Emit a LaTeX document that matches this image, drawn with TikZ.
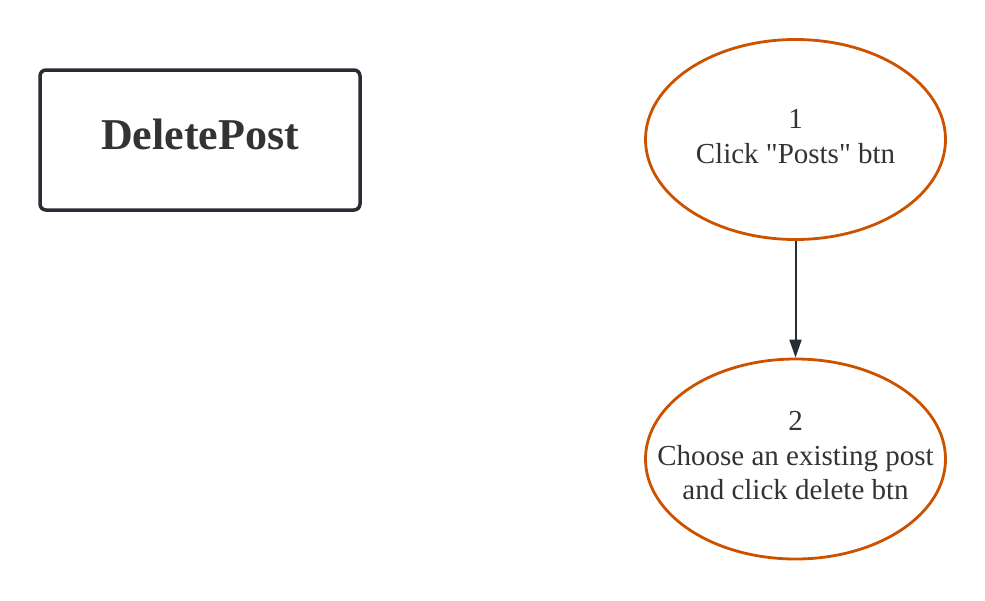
\documentclass[tikz,border=0pt]{standalone}
\usepackage{fontspec}
\setmainfont{Liberation Serif}
\usetikzlibrary{arrows.meta,shapes.geometric}
\definecolor{boxline}{HTML}{282C33}
\definecolor{txt}{HTML}{333333}
\definecolor{orangeline}{HTML}{CC5200}
\tikzset{
  titlebox/.style={draw=boxline, line width=3.5pt, rounded corners=6pt, minimum width=320pt, minimum height=140pt, inner sep=0pt},
  titletext/.style={text=txt, font=\fontsize{44}{50}\selectfont\bfseries, inner sep=0pt},
  stepell/.style={draw=orangeline, line width=2.8pt, ellipse, minimum width=300pt, minimum height=200pt, inner sep=0pt},
  steptext/.style={text=txt, align=center, font=\fontsize{29}{34.5}\selectfont, inner sep=0pt},
  flow/.style={draw=boxline, line width=2pt, -{Triangle[length=18pt,width=12pt]}}
}
\begin{document}
\begin{tikzpicture}[x=1pt,y=-1pt]
\useasboundingbox (0,0) rectangle (985,600);
\node[titlebox] (title) at (200,140) {};
\node[titletext] (titlet) at (200,134) {DeletePost};
\node[stepell] (s1) at (795.5,139.5) {};
\node[steptext] (t1) at (795.5,136.5) {1\\Click \textquotedbl Posts\textquotedbl\ btn};
\node[stepell] (s2) at (795.5,459) {};
\node[steptext] (t2) at (795.5,456) {2\\Choose an existing post\\and click delete btn};
\draw[flow] (s1.south) -- (s2.north);
\end{tikzpicture}
\end{document}
